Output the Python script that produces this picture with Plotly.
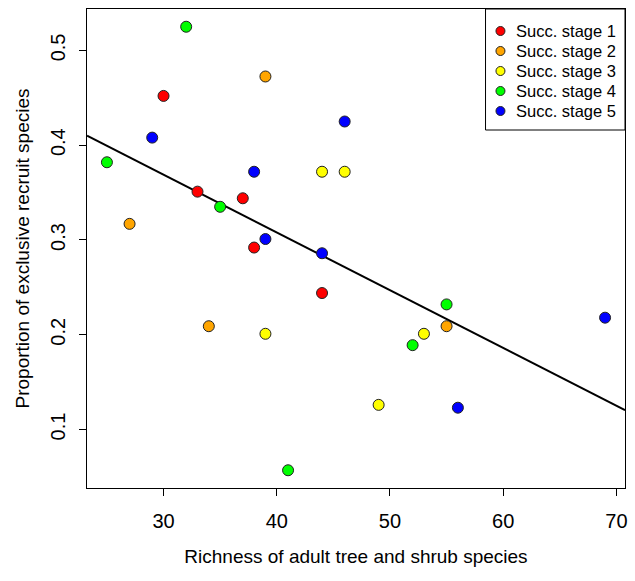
import numpy as np
import plotly.graph_objects as go

# Richness of adult tree/shrub species (x) and proportion of exclusive recruit species (y)
stage1_x = [30, 33, 37, 38, 44]
stage1_y = [0.452, 0.351, 0.344, 0.292, 0.244]
stage2_x = [27, 34, 39, 55]
stage2_y = [0.317, 0.209, 0.4725, 0.209]
stage3_x = [39, 44, 46, 49, 53]
stage3_y = [0.201, 0.372, 0.372, 0.126, 0.201]
stage4_x = [25, 32, 35, 41, 52, 55]
stage4_y = [0.382, 0.525, 0.335, 0.057, 0.189, 0.232]
stage5_x = [29, 38, 39, 44, 46, 56, 69]
stage5_y = [0.408, 0.372, 0.301, 0.286, 0.425, 0.123, 0.218]

stage_names = ["Succ. stage 1", "Succ. stage 2", "Succ. stage 3", "Succ. stage 4", "Succ. stage 5"]
stage_colors = ["#FF0000", "#FFA500", "#FFFF00", "#00FF00", "#0000FF"]

x_ticks = [30, 40, 50, 60, 70]
y_ticks = [0.1, 0.2, 0.3, 0.4, 0.5]

xs = [stage1_x, stage2_x, stage3_x, stage4_x, stage5_x]
ys = [stage1_y, stage2_y, stage3_y, stage4_y, stage5_y]

all_x = np.concatenate([np.array(v, float) for v in xs])
all_y = np.concatenate([np.array(v, float) for v in ys])

# axis limits with a 4% pad on each side
def padded(v):
    lo, hi = v.min(), v.max()
    d = (hi - lo) * 0.04
    return [lo - d, hi + d]

xr = padded(all_x)
yr = padded(all_y)

# least-squares fit across all stages
slope, intercept = np.polyfit(all_x, all_y, 1)

FONT = "Liberation Sans, Arial, Helvetica, sans-serif"
W, H = 635, 581
ML, MR, MT, MB = 87, 8, 9, 93
PW, PH = W - ML - MR, H - MT - MB


def px_to_paper(px, py):
    return (px - ML) / PW, 1 - (py - MT) / PH


fig = go.Figure()

fig.add_trace(go.Scatter(
    x=xr, y=[intercept + slope * xr[0], intercept + slope * xr[1]],
    mode="lines", line=dict(color="black", width=2),
    showlegend=False, hoverinfo="skip",
))

for name, col, x, y in zip(stage_names, stage_colors, xs, ys):
    fig.add_trace(go.Scatter(
        x=x, y=y, mode="markers", name=name, showlegend=False,
        marker=dict(size=11, color=col, line=dict(color="#222222", width=1)),
    ))

# boxed key in the top-right corner
shapes = []
annotations = []
bx0, by1 = px_to_paper(487, 130)
shapes.append(dict(type="rect", xref="paper", yref="paper",
                   x0=bx0, x1=1, y0=by1, y1=1,
                   line=dict(color="black", width=1), fillcolor="white", layer="above"))
for i, (name, col) in enumerate(zip(stage_names, stage_colors)):
    cy = 31 + i * 20
    mx, my = px_to_paper(502, cy)
    shapes.append(dict(type="circle", xref="paper", yref="paper",
                       xsizemode="pixel", ysizemode="pixel",
                       xanchor=mx, yanchor=my, x0=-4.5, x1=4.5, y0=-4.5, y1=4.5,
                       fillcolor=col, line=dict(color="#222222", width=1), layer="above"))
    tx, ty = px_to_paper(516, cy)
    annotations.append(dict(text=name, xref="paper", yref="paper", x=tx, y=ty,
                            xanchor="left", yanchor="middle", showarrow=False,
                            font=dict(family=FONT, size=16.5, color="black")))

axis_common = dict(
    showgrid=False, zeroline=False,
    showline=True, linecolor="black", linewidth=1, mirror=True,
    ticks="outside", ticklen=7, tickwidth=1, tickcolor="black",
    tickfont=dict(family=FONT, size=20, color="black"),
)

fig.update_xaxes(
    range=xr, tickvals=x_ticks, ticklabelstandoff=8,
    title=dict(text="Richness of adult tree and shrub species",
               font=dict(family=FONT, size=19, color="black"), standoff=18),
    **axis_common,
)
fig.update_yaxes(
    range=yr, tickvals=y_ticks, tickangle=-90, ticklabelstandoff=6,
    title=dict(text="Proportion of exclusive recruit species",
               font=dict(family=FONT, size=19, color="black"), standoff=12),
    **axis_common,
)

fig.update_layout(
    width=W, height=H,
    margin=dict(l=ML, r=MR, t=MT, b=MB),
    paper_bgcolor="white", plot_bgcolor="white",
    font=dict(family=FONT, color="black"),
    showlegend=False,
    shapes=shapes, annotations=annotations,
)

fig.write_html("out.html")
